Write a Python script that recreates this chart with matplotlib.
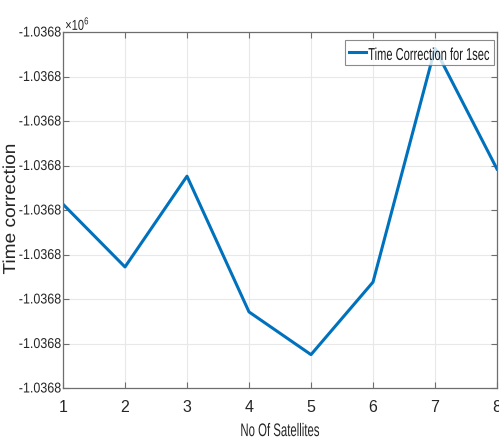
import matplotlib
matplotlib.use("Agg")
import matplotlib.pyplot as plt
from matplotlib.ticker import FuncFormatter, FixedLocator
from matplotlib.patheffects import AbstractPathEffect
from matplotlib.transforms import Affine2D
from matplotlib.path import Path

satellites = [1, 2, 3, 4, 5, 6, 7, 8]
time_correction = [-1036803.87, -1036805.28, -1036803.24, -1036806.29,
                   -1036807.25, -1036805.62, -1036800.37, -1036803.08]
y_ticks = [-1036808, -1036807, -1036806, -1036805, -1036804,
           -1036803, -1036802, -1036801, -1036800]
series_label = "Time Correction for 1sec"
x_label = "No Of Satellites"
y_label = "Time correction"

FONT = "Liberation Sans"
TXT = "#262626"


class Stretch(AbstractPathEffect):
    """Scale glyphs: vertically about the baseline, horizontally about the centre."""
    def __init__(self, sy=1.0, dy=0.0, sx=1.0):
        super().__init__()
        self.sy = sy
        self.dy = dy
        self.sx = sx

    def draw_path(self, renderer, gc, tpath, affine, rgbFace=None):
        t = Affine2D()
        if self.sx != 1.0 and len(tpath.vertices):
            ext = tpath.get_extents()
            cx = (ext.x0 + ext.x1) / 2
            t = t.translate(-cx, 0).scale(self.sx, 1.0).translate(cx, 0)
        t = t.scale(1.0, self.sy) + affine + Affine2D().translate(0, self.dy)
        renderer.draw_path(gc, tpath, t, rgbFace)


fig = plt.figure(figsize=(4.99, 4.39), dpi=100)
ax = fig.add_axes([63/499, 1-389/439, (497-63)/499, (389-33)/439])

ax.plot(satellites, time_correction, color="#0072BD", linewidth=2.2, label=series_label)

ax.set_xlim(1, 8)
ax.set_ylim(y_ticks[0], y_ticks[-1])
ax.xaxis.set_major_locator(FixedLocator(satellites))
ax.yaxis.set_major_locator(FixedLocator(y_ticks))
ax.yaxis.set_major_formatter(FuncFormatter(lambda v, p: f"{v/1e6:.4f}"))

ax.grid(True, color="#e8e8e8", linewidth=0.8)
ax.set_axisbelow(True)
for s in ax.spines.values():
    s.set_color("#6e6e6e")
    s.set_linewidth(0.9)
ax.tick_params(direction="in", length=4, color="#6e6e6e", top=True, right=True,
               labelcolor=TXT)
ax.tick_params(axis="x", pad=8)
ax.tick_params(axis="y", pad=1.5)
for lab in ax.get_xticklabels():
    lab.set_fontfamily(FONT)
    lab.set_fontsize(11.5)
for lab in ax.get_yticklabels():
    lab.set_fontfamily(FONT)
    lab.set_fontsize(9.0)
    lab.set_path_effects([Stretch(1.14)])

# x label: natural width matching, stretched vertically
xl = ax.set_xlabel(x_label, fontfamily=FONT, fontsize=8.2, color=TXT)
xl.set_va("baseline")
ax.xaxis.set_label_coords(0.5, -0.135)
xl.set_path_effects([Stretch(1.6)])

yl = ax.set_ylabel(y_label, fontfamily=FONT, fontsize=12.5, color=TXT)
yl.set_rotation_mode("anchor")
yl.set_va("baseline")
ax.yaxis.set_label_coords(-0.1106, 0.503)
yl.set_path_effects([Stretch(1.0, sx=1.1)])

off = ax.text(0.005, 1.0056, r"×10$^{\mathregular{6}}$", transform=ax.transAxes,
              fontsize=8.0, color=TXT, ha="left", va="baseline", fontfamily=FONT)
off.set_path_effects([Stretch(1.3)])

leg = ax.legend(loc="upper right", bbox_to_anchor=(0.993, 0.966),
                prop={"family": FONT, "size": 8.0},
                frameon=True, fancybox=False, edgecolor="#6e6e6e",
                handlelength=1.55, handletextpad=0.2, borderpad=0.3,
                borderaxespad=0.0)
frame = leg.get_frame()
frame.set_linewidth(0.8)


def tall_box(x0, y0, width, height, mutation_size, pad_y=4.0):
    y0 -= pad_y
    height += 2 * pad_y
    return Path([(x0, y0), (x0 + width, y0), (x0 + width, y0 + height),
                 (x0, y0 + height), (x0, y0)], closed=True)


frame.set_boxstyle(tall_box)
for t in leg.get_texts():
    t.set_color("#1a1a1a")
    t.set_path_effects([Stretch(1.55, dy=-4.5)])

fig.savefig("out.png", dpi=100)
